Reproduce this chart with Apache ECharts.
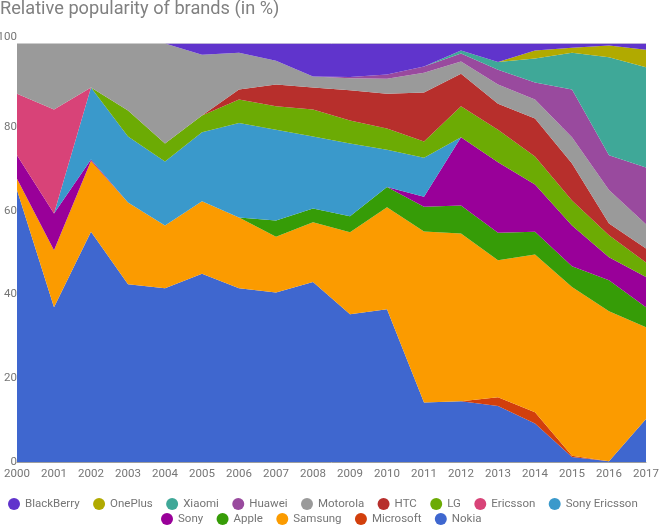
<!DOCTYPE html>
<html lang="en">
<head>
  <meta charset="UTF-8">
  <title>Relative popularity of brands</title>
  <script src="https://cdn.jsdelivr.net/npm/echarts@6/dist/echarts.min.js"></script>
  <style>
    html, body { margin: 0; padding: 0; background: #fff; }
    #chart { width: 660px; height: 526px; }
  </style>
</head>
<body>
<div id="chart"></div>
<script>
  const years = ['2000','2001','2002','2003','2004','2005','2006','2007','2008','2009','2010','2011','2012','2013','2014','2015','2016','2017'];
  const yTicks = [0, 20, 40, 60, 80, 100];

  // share per brand, each year
  const nokia = [65,37,55,42.5,41.5,45,41.5,40.5,43,35.3,36.5,14.2,14.5,13.4,9.2,1.2,0.2,10.3];
  const microsoft = [0,0,0,0,0,0,0,0,0,0,0,0,0,2.1,2.7,0.3,0,0];
  const samsung = [2.7,13.6,17,19.5,15,17.3,16.9,13.3,14.3,19.6,24.4,40.9,40.1,32.7,37.7,40.3,35.8,21.9];
  const apple = [0,0,0,0,0,0,0,3.9,3.3,3.8,4.8,5.9,6.7,6.6,5.4,5,7.4,4.8];
  const sony = [5.6,8.8,0.3,0,0,0,0,0,0,0,0,2.4,16.3,16.8,11.3,9.7,5.5,7.2];
  const sonyEricsson = [0,0,17.2,15.8,15.3,16.5,22.6,21.7,17.2,17.4,8.9,9.3,0,0,0,0,0,0];
  const ericsson = [14.7,24.8,0,0,0,0,0,0,0,0,0,0,0,0,0,0,0,0];
  const lg = [0,0,0,6.2,4.3,4,5.6,5.6,6.4,5.5,5.1,3.9,7.4,7.8,6.7,6,5.3,3.5];
  const htc = [0,0,0,0,0,0,2.4,5.2,5.3,7.2,8.3,11.7,7.8,6.2,9.1,8.8,2.8,3.3];
  const motorola = [12,15.8,10.5,16,23.9,14.5,8.8,5.7,2.6,2.9,3.6,4.7,2.9,4.6,4.5,6.3,8,5.8];
  const huawei = [0,0,0,0,0,0,0,0,0,0.3,1,1.5,1.9,3.5,4.1,11.4,8.3,13.6];
  const xiaomi = [0,0,0,0,0,0,0,0,0,0,0,0,0.7,1.9,5.7,8.8,23.4,23.9];
  const onePlus = [0,0,0,0,0,0,0,0,0,0,0,0,0,0,1.9,1.2,2.8,4.2];
  const blackBerry = [0,0,0,0,0,2.7,2.2,4.1,7.9,8,7.4,5.5,1.7,4.4,1.7,1,0.5,1.5];

  // bottom of the stack first
  const brands = [
    ['Nokia', nokia, '#3f67cf'],
    ['Microsoft', microsoft, '#d23f0c'],
    ['Samsung', samsung, '#fb9b00'],
    ['Apple', apple, '#369c07'],
    ['Sony', sony, '#990099'],
    ['Sony Ericsson', sonyEricsson, '#3a99cb'],
    ['Ericsson', ericsson, '#d84378'],
    ['LG', lg, '#6cab04'],
    ['HTC', htc, '#b72f2c'],
    ['Motorola', motorola, '#9a9a9a'],
    ['Huawei', huawei, '#994a9e'],
    ['Xiaomi', xiaomi, '#3fa898'],
    ['OnePlus', onePlus, '#b1aa00'],
    ['BlackBerry', blackBerry, '#6034cc']
  ];

  const legendRow1 = ['BlackBerry','OnePlus','Xiaomi','Huawei','Motorola','HTC','LG','Ericsson','Sony Ericsson'];
  const legendRow2 = ['Sony','Apple','Samsung','Microsoft','Nokia'];

  function legendRow(names, left, top) {
    return {
      data: names,
      left: left,
      top: top,
      icon: 'circle',
      itemWidth: 12,
      itemHeight: 12,
      itemGap: 13.4,
      padding: 0,
      selectedMode: false,
      textStyle: { color: '#757575', fontSize: 11.5, fontFamily: 'Roboto' }
    };
  }

  const chart = echarts.init(document.getElementById('chart'));
  chart.setOption({
    animation: false,
    title: {
      text: 'Relative popularity of brands (in %)',
      left: 0,
      top: 0,
      padding: 0,
      textStyle: { color: '#808080', fontSize: 18.2, fontWeight: 'normal', fontFamily: 'Roboto' }
    },
    legend: [legendRow(legendRow1, 8, 498), legendRow(legendRow2, 161, 513)],
    grid: { left: 17, right: 14, top: 43.5, bottom: 64, outerBoundsMode: 'none' },
    xAxis: {
      type: 'category',
      data: years,
      boundaryGap: false,
      axisTick: { show: false },
      axisLine: { lineStyle: { color: '#9e9e9e' } },
      axisLabel: { color: '#757575', fontSize: 11.5, fontFamily: 'Roboto', margin: 6, interval: 0 }
    },
    yAxis: {
      type: 'value',
      min: 0,
      max: 100,
      interval: yTicks[1] - yTicks[0],
      axisLine: { show: false },
      axisTick: { show: false },
      splitLine: { lineStyle: { color: '#dddddd' } },
      axisLabel: {
        color: '#757575',
        fontSize: 11.5,
        fontFamily: 'Roboto',
        margin: 0,
        verticalAlignMaxLabel: 'bottom'
      }
    },
    series: brands.map(function (b) {
      return {
        name: b[0],
        type: 'line',
        stack: 'share',
        data: b[1],
        symbol: 'none',
        color: b[2],
        lineStyle: { width: 0 },
        areaStyle: { color: b[2], opacity: 1 }
      };
    })
  });
</script>
</body>
</html>
